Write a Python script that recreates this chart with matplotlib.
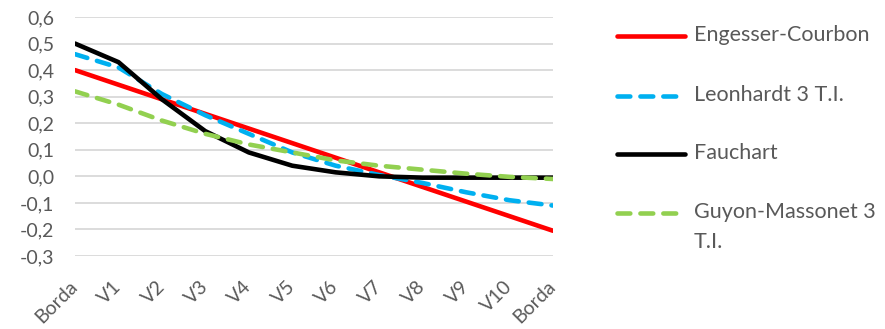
import matplotlib.pyplot as plt
from matplotlib.lines import Line2D

plt.rcParams['font.family'] = ['Lato', 'DejaVu Sans']

positions = ['Borda', 'V1', 'V2', 'V3', 'V4', 'V5', 'V6', 'V7', 'V8', 'V9', 'V10', 'Borda']

engesser = [0.40, 0.345, 0.29, 0.235, 0.18, 0.125, 0.07, 0.015, -0.04, -0.095, -0.15, -0.205]
leonhardt = [0.46, 0.41, 0.31, 0.23, 0.16, 0.09, 0.04, 0.005, -0.025, -0.06, -0.09, -0.11]
fauchart = [0.50, 0.43, 0.29, 0.17, 0.09, 0.04, 0.015, 0.0, -0.005, -0.005, -0.005, -0.005]
guyon = [0.32, 0.27, 0.21, 0.16, 0.12, 0.09, 0.06, 0.04, 0.025, 0.01, -0.002, -0.01]

yticks = [-0.3, -0.2, -0.1, 0.0, 0.1, 0.2, 0.3, 0.4, 0.5, 0.6]

W, H = 885, 329
fig = plt.figure(figsize=(W / 100, H / 100), dpi=100)
ax = fig.add_axes([75 / W, 1 - 256 / H, (553 - 75) / W, (256 - 17) / H])

grey = '#595959'
lw = 3.3
dash = (2.8, 2.2)
series = [
    (engesser, '#ff0000', None, 'Engesser-Courbon'),
    (leonhardt, '#00b0f0', dash, 'Leonhardt 3 T.I.'),
    (fauchart, '#000000', None, 'Fauchart'),
    (guyon, '#92d050', dash, 'Guyon-Massonet 3\nT.I.'),
]

x = range(len(positions))
for vals, col, ds, name in series:
    if ds:
        ax.plot(x, vals, color=col, lw=lw, dashes=ds, dash_capstyle='round')
    else:
        ax.plot(x, vals, color=col, lw=lw, solid_capstyle='round')

ax.set_xlim(0, len(positions) - 1)
ax.set_ylim(-0.3, 0.6)
ax.set_yticks(yticks)
ax.set_yticklabels([f'{v:.1f}'.replace('.', ',') for v in yticks])
ax.set_xticks(list(x))
ax.set_xticklabels(positions, rotation=45, ha='right', va='center', rotation_mode='anchor')

ax.grid(axis='y', color='#d9d9d9', lw=1.3)
ax.set_axisbelow(True)
for s in ax.spines.values():
    s.set_visible(False)
ax.tick_params(length=0, labelsize=14, colors=grey)
ax.tick_params(axis='y', pad=15)
ax.tick_params(axis='x', pad=20)

# legend drawn by hand, handle aligned with the first text line
rows = [36, 96, 154, 213]
for (vals, col, ds, name), ry in zip(series, rows):
    yf = 1 - ry / H
    ln = Line2D([617 / W, 685 / W], [yf, yf], transform=fig.transFigure,
                color=col, lw=lw, solid_capstyle='round', dash_capstyle='round')
    if ds:
        ln.set_dashes(ds)
    fig.add_artist(ln)
    fig.text(694 / W, yf + 11 / H, name, fontsize=15.5, color=grey, va='top',
             ha='left', linespacing=1.6, transform=fig.transFigure)

fig.savefig('out.png', dpi=100)
